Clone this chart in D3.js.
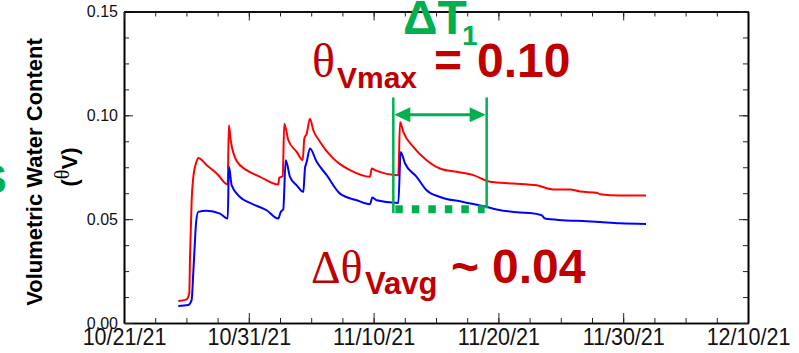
<!DOCTYPE html>
<html>
<head>
<meta charset="utf-8">
<script src="https://cdn.jsdelivr.net/npm/d3@7"></script>
<style>
  html, body { margin: 0; padding: 0; background: #fff; }
  svg { display: block; font-family: "Liberation Sans", Arial, sans-serif; }
</style>
</head>
<body>
<svg id="chart" width="799" height="353"></svg>
<script>
// Soil moisture record: days are counted from 10/21/21 (fractional days).
const redDays = [4.35, 5.02, 5.23, 5.29, 5.42, 5.55, 5.83, 5.95, 6.63, 7.43, 8.31, 8.40, 8.55, 9.03, 9.83,
  10.90, 12.36, 12.44, 12.72, 12.84, 13.17, 13.84, 14.32, 14.45, 14.64, 14.90, 15.17, 15.71, 16.64,
  17.31, 18.11, 19.71, 19.85, 20.11, 21.98, 22.12, 22.38, 23.18, 24.25, 25.32, 26.66, 27.99, 29.33,
  31.19, 33.07, 34.40, 35.74, 36.54, 37.88, 38.14, 39.74, 41.83];
const redValues = [0.0106, 0.0114, 0.0143, 0.032, 0.059, 0.070, 0.078, 0.0795, 0.076, 0.072, 0.0667, 0.0952, 0.088, 0.078, 0.0736,
  0.0704, 0.0667, 0.070, 0.0707, 0.096, 0.088, 0.0824, 0.0784, 0.0888, 0.0912, 0.0984, 0.0928, 0.0872, 0.080,
  0.0765, 0.0736, 0.0704, 0.0744, 0.0736, 0.0712, 0.0968, 0.092, 0.0848, 0.0784, 0.0744, 0.0728, 0.0712, 0.068,
  0.0672, 0.0663, 0.0643, 0.0643, 0.0633, 0.0627, 0.062, 0.0614, 0.0614];

const blueDays = [4.35, 5.15, 5.42, 5.55, 5.69, 5.77, 5.95, 6.63, 7.69, 8.31, 8.41, 8.63, 9.29, 10.10, 11.43,
  12.36, 12.56, 12.76, 12.96, 13.30, 13.84, 14.37, 14.50, 14.64, 14.90, 15.44, 16.24, 17.31, 18.65,
  19.71, 19.90, 20.25, 21.98, 22.17, 22.52, 23.45, 24.25, 25.32, 27.19, 28.79, 29.86, 31.73, 32.53,
  33.47, 33.73, 35.20, 37.07, 38.14, 39.74, 41.83];
const blueValues = [0.0082, 0.0087, 0.011, 0.024, 0.040, 0.048, 0.0535, 0.054, 0.0527, 0.0503, 0.0752, 0.0663, 0.0607, 0.0578, 0.0543,
  0.0503, 0.0535, 0.0547, 0.0784, 0.0704, 0.0663, 0.0631, 0.0744, 0.0776, 0.084, 0.0776, 0.0712, 0.0623, 0.0591,
  0.0572, 0.0604, 0.0591, 0.0578, 0.0824, 0.0768, 0.0704, 0.0639, 0.0607, 0.0583, 0.0563, 0.0547, 0.0532, 0.0530,
  0.0519, 0.0503, 0.0495, 0.049, 0.0486, 0.048, 0.0477];

const xTickLabels = ["10/21/21", "10/31/21", "11/10/21", "11/20/21", "11/30/21", "12/10/21"];
const yTickValues = [0.00, 0.05, 0.10, 0.15];

// Drying window marked after the 11/12 event (days) and the blue-sensor level at its end.
const windowDays = [21.58, 29.06];
const windowTop = 0.1086;
const windowBottom = [0.0529, 0.0552];
const avgLevel = 0.0548;

const GREEN = "#00b050";
const DARK_RED = "#c00000";

const parseTick = d3.utcParse("%m/%d/%y");
const start = parseTick(xTickLabels[0]);
const toDate = d => new Date(start.getTime() + d * 864e5);

const svg = d3.select("#chart");
svg.append("rect").attr("width", 799).attr("height", 353).attr("fill", "#fff");

const plotLeft = 124, plotRight = 748, plotTop = 11.5, plotBottom = 323;
const x = d3.scaleUtc().domain([start, parseTick(xTickLabels[xTickLabels.length - 1])]).range([plotLeft, plotRight]);
const y = d3.scaleLinear().domain([0, 0.15]).range([plotBottom, plotTop]);

const majorX = xTickLabels.map(parseTick);
const minorX = d3.range(0, 50.001, 2.5).map(toDate);
const minorY = d3.range(0, 0.15001, 0.0125);

// Minor ticks (all four sides, pointing inward)
const minorG = svg.append("g").attr("class", "minor");
minorG.append("g").attr("transform", `translate(0,${plotBottom})`)
  .call(d3.axisBottom(x).tickValues(minorX).tickSizeInner(-5).tickSizeOuter(0).tickFormat(""));
minorG.append("g").attr("transform", `translate(0,${plotTop})`)
  .call(d3.axisTop(x).tickValues(minorX).tickSizeInner(-5).tickSizeOuter(0).tickFormat(""));
minorG.append("g").attr("transform", `translate(${plotLeft},0)`)
  .call(d3.axisLeft(y).tickValues(minorY).tickSizeInner(-5).tickSizeOuter(0).tickFormat(""));
minorG.append("g").attr("transform", `translate(${plotRight},0)`)
  .call(d3.axisRight(y).tickValues(minorY).tickSizeInner(-5).tickSizeOuter(0).tickFormat(""));

// Major ticks with labels
const xAxis = svg.append("g").attr("transform", `translate(0,${plotBottom})`)
  .call(d3.axisBottom(x).tickValues(majorX).tickSizeInner(-10).tickSizeOuter(0).tickPadding(5)
    .tickFormat(d3.utcFormat("%m/%d/%y")));
xAxis.selectAll("text").attr("font-size", 23.5).attr("fill", "#111")
  .attr("transform", "scale(0.915,1)")
  .attr("font-family", "'Liberation Sans', Arial, sans-serif");

const yAxis = svg.append("g").attr("transform", `translate(${plotLeft},0)`)
  .call(d3.axisLeft(y).tickValues(yTickValues).tickSizeInner(-9).tickSizeOuter(0).tickPadding(6)
    .tickFormat(d3.format(".2f")));
yAxis.selectAll("text").attr("font-size", 16).attr("fill", "#111")
  .attr("font-family", "'Liberation Sans', Arial, sans-serif");

svg.append("g").attr("transform", `translate(0,${plotTop})`)
  .call(d3.axisTop(x).tickValues(majorX).tickSizeInner(-9).tickSizeOuter(0).tickFormat(""));
svg.append("g").attr("transform", `translate(${plotRight},0)`)
  .call(d3.axisRight(y).tickValues(yTickValues).tickSizeInner(-9).tickSizeOuter(0).tickFormat(""));

svg.selectAll(".domain").attr("stroke", "#000").attr("stroke-width", 1.6);
svg.selectAll(".tick line").attr("stroke", "#222").attr("stroke-width", 1);

// Data lines
const line = d3.line().curve(d3.curveMonotoneX).x(d => x(toDate(d[0]))).y(d => y(d[1]));
svg.append("path").datum(d3.zip(redDays, redValues))
  .attr("fill", "none").attr("stroke", "#ff0000").attr("stroke-width", 2).attr("d", line);
svg.append("path").datum(d3.zip(blueDays, blueValues))
  .attr("fill", "none").attr("stroke", "#0000ff").attr("stroke-width", 2).attr("d", line);

// Drying-window annotation
const ann = svg.append("g");
windowDays.forEach((d, i) => {
  ann.append("line")
    .attr("x1", x(toDate(d))).attr("x2", x(toDate(d)))
    .attr("y1", y(windowTop)).attr("y2", y(windowBottom[i]))
    .attr("stroke", GREEN).attr("stroke-width", 2.5);
});
const ax0 = x(toDate(windowDays[0])), ax1 = x(toDate(windowDays[1]));
const ay = y(0.1003);
ann.append("line").attr("x1", ax0 + 14).attr("x2", ax1 - 14).attr("y1", ay).attr("y2", ay)
  .attr("stroke", GREEN).attr("stroke-width", 3);
ann.append("path").attr("fill", GREEN)
  .attr("d", `M${ax0 + 1},${ay} L${ax0 + 17},${ay - 7.5} L${ax0 + 17},${ay + 7.5} Z`);
ann.append("path").attr("fill", GREEN)
  .attr("d", `M${ax1 - 1},${ay} L${ax1 - 17},${ay - 7.5} L${ax1 - 17},${ay + 7.5} Z`);
ann.append("line")
  .attr("x1", ax0 + 2).attr("x2", ax1 - 2).attr("y1", y(avgLevel)).attr("y2", y(avgLevel))
  .attr("stroke", GREEN).attr("stroke-width", 8).attr("stroke-dasharray", "7.5 9");

// Annotation text
const dT = svg.append("text").attr("fill", GREEN).attr("font-weight", "bold");
dT.append("tspan").attr("x", 403).attr("y", 34).attr("font-size", 48).text("ΔT");
dT.append("tspan").attr("x", 462).attr("y", 45).attr("font-size", 28).text("1");

const tMax = svg.append("text").attr("fill", DARK_RED);
tMax.append("tspan").attr("x", 312).attr("y", 77).attr("font-size", 48)
  .attr("font-family", "'Liberation Serif', 'Times New Roman', serif").text("θ");
tMax.append("tspan").attr("x", 337).attr("y", 88).attr("font-size", 30).attr("font-weight", "bold").text("Vmax");
tMax.append("tspan").attr("x", 434).attr("y", 77).attr("font-size", 48).attr("font-weight", "bold").text("=");
tMax.append("tspan").attr("x", 477).attr("y", 77).attr("font-size", 48).attr("font-weight", "bold").text("0.10");

const tAvg = svg.append("text").attr("fill", DARK_RED);
tAvg.append("tspan").attr("x", 311).attr("y", 283).attr("font-size", 46)
  .attr("font-family", "'Liberation Serif', 'Times New Roman', serif").text("Δθ");
tAvg.append("tspan").attr("x", 365).attr("y", 294).attr("font-size", 31).attr("font-weight", "bold").text("Vavg");
tAvg.append("tspan").attr("x", 451).attr("y", 283).attr("font-size", 48).attr("font-weight", "bold").text("~");
tAvg.append("tspan").attr("x", 492).attr("y", 283).attr("font-size", 48).attr("font-weight", "bold").text("0.04");

// Y-axis title
svg.append("text").attr("transform", "translate(42,172) rotate(-90)")
  .attr("text-anchor", "middle").attr("font-size", 22).attr("font-weight", "bold").attr("fill", "#000")
  .text("Volumetric Water Content");
const sub = svg.append("text").attr("transform", "translate(77,167) rotate(-90)")
  .attr("text-anchor", "middle").attr("font-size", 22).attr("font-weight", "bold").attr("fill", "#000");
sub.append("tspan").text("(");
sub.append("tspan").attr("font-weight", "normal").attr("font-size", 20).attr("dy", -8)
  .attr("font-family", "'Liberation Serif', 'Times New Roman', serif").text("θ");
sub.append("tspan").attr("dy", 8).text("V");
sub.append("tspan").text(")");

// Partial green letter at the left edge
svg.append("text").attr("x", -20).attr("y", 193).attr("font-size", 40).attr("font-weight", "bold")
  .attr("fill", GREEN).text("S");
</script>
</body>
</html>
